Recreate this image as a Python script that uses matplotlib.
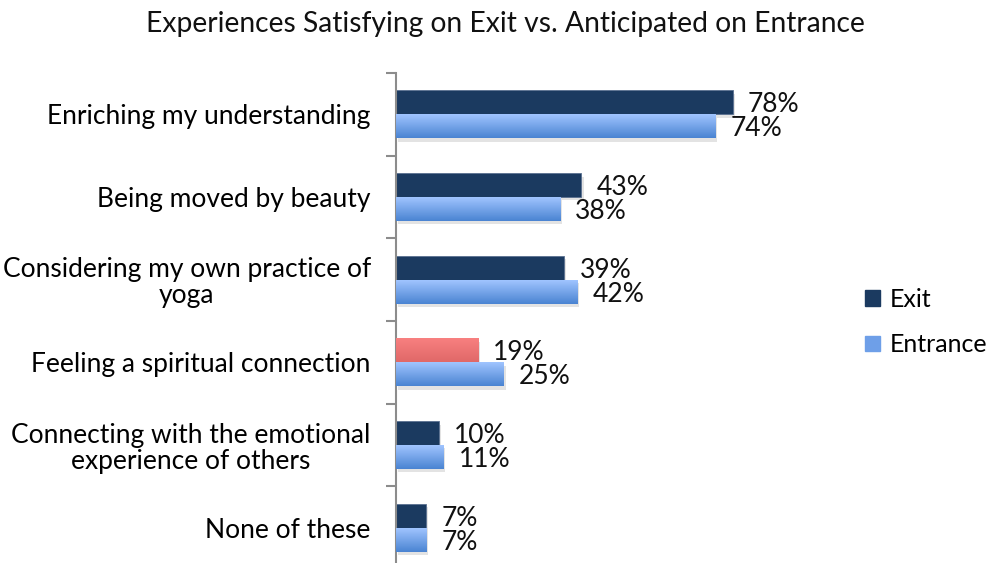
import matplotlib
matplotlib.use("Agg")
import matplotlib.pyplot as plt
import matplotlib.patheffects as pe
import numpy as np
from matplotlib.colors import LinearSegmentedColormap
from matplotlib.patches import Rectangle

categories = ["Enriching my understanding", "Being moved by beauty",
              "Considering my own practice of\nyoga", "Feeling a spiritual connection",
              "Connecting with the emotional\nexperience of others", "None of these"]
exit_vals = [78, 43, 39, 19, 10, 7]
entrance_vals = [74, 38, 42, 25, 11, 7]
highlight_index = 3

plt.rcParams['font.family'] = ['Lato', 'DejaVu Sans']

fig = plt.figure(figsize=(9.97, 5.63), dpi=100)
ax = fig.add_axes([0.397, -0.0107, 0.433, 0.881])

exit_color = "#1B3A60"
ent_cmap = LinearSegmentedColormap.from_list("ent", ["#A0C4FF", "#4A84D2"])
red_cmap = LinearSegmentedColormap.from_list("red", ["#F88080", "#E06868"])

h = 0.29
y = np.arange(len(categories))
shadow = [pe.SimplePatchShadow(offset=(1.5, -2.5), shadow_rgbFace="#808080", alpha=0.22), pe.Normal()]

grad = np.linspace(0, 1, 64).reshape(-1, 1)

for i, (ev, nv) in enumerate(zip(exit_vals, entrance_vals)):
    # Exit bar
    if i == highlight_index:
        b = ax.barh(y[i] - h / 2, ev, height=h, color="#E87070", zorder=2)[0]
        b.set_path_effects(shadow)
        im = ax.imshow(grad, aspect="auto", cmap=red_cmap,
                       extent=(0, ev, y[i], y[i] - h), zorder=3, interpolation="bilinear")
        im.set_clip_path(b)
    else:
        b = ax.barh(y[i] - h / 2, ev, height=h, color=exit_color, zorder=2,
                    edgecolor="#5A7090", linewidth=0.6)[0]
        b.set_path_effects(shadow)
    # Entrance bar
    b2 = ax.barh(y[i] + h / 2, nv, height=h, color="#6E9FE8", zorder=2)[0]
    b2.set_path_effects(shadow)
    im2 = ax.imshow(grad, aspect="auto", cmap=ent_cmap,
                    extent=(0, nv, y[i] + h, y[i]), zorder=3, interpolation="bilinear")
    im2.set_clip_path(b2)

    ax.annotate(f"{ev}%", (ev, y[i] - h / 2 + 0.03), xytext=(11, 0), textcoords="offset points",
                va="center", ha="left", fontsize=19, color="#111111")
    ax.annotate(f"{nv}%", (nv, y[i] + h / 2 + 0.03), xytext=(11, 0), textcoords="offset points",
                va="center", ha="left", fontsize=19, color="#111111")

ax.set_xlim(0, 100)
ax.set_ylim(len(categories) - 0.5, -0.5)
ax.set_yticks(y)
ax.set_yticklabels(categories, fontsize=19, ha="right", multialignment="center", linespacing=1.05)
ax.tick_params(axis="y", which="major", length=0, pad=18)
ax.set_yticks(np.arange(-0.5, len(categories), 1.0), minor=True)
ax.tick_params(axis="y", which="minor", length=7, width=1.5, color="#8C8C8C", direction="out")
ax.set_xticks([])
for s in ["top", "right", "bottom"]:
    ax.spines[s].set_visible(False)
ax.spines["left"].set_color("#8C8C8C")
ax.spines["left"].set_linewidth(1.5)

fig.text(0.507, 0.958, "Experiences Satisfying on Exit vs. Anticipated on Entrance",
         ha="center", va="center", fontsize=20.3, color="#111111")

# legend
handles = [Rectangle((0, 0), 1, 1, color=exit_color), Rectangle((0, 0), 1, 1, color="#6E9FE8")]
leg = fig.legend(handles, ["Exit", "Entrance"], loc="center left", bbox_to_anchor=(0.845, 0.428),
                 frameon=False, fontsize=18, handlelength=0.6, handleheight=0.6,
                 handletextpad=0.4, labelspacing=0.9)

fig.savefig("out.png", dpi=100)
